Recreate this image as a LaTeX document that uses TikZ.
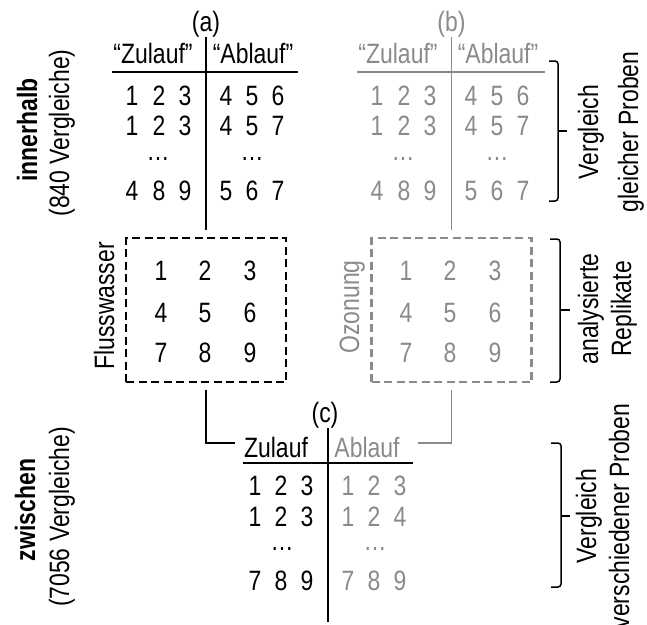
\documentclass[tikz,border=0pt]{standalone}
\usepackage{fontspec}
\setmainfont{Liberation Sans}[FakeStretch=0.82]
\definecolor{lightink}{RGB}{138,138,138}
\begin{document}
\begin{tikzpicture}[x=1pt,y=-1pt,
  every node/.style={inner sep=0pt,outer sep=0pt},
  lbl/.style={font=\fontsize{28}{34}\selectfont,anchor=base},
  dotrow/.style={lbl,text height=4pt,text depth=0pt},
  vlabel/.style={lbl,rotate=90},
  dim/.style={text=lightink},
  rule/.style={line width=1.5pt},
  replbox/.style={draw,line width=2.8pt,dash pattern=on 8pt off 4.5pt,
    minimum width=160pt,minimum height=144pt},
  brace/.style={line width=1.5pt,rounded corners=3pt}]
\useasboundingbox (0,0) rectangle (647,624);

% ---------- (a) comparisons within river water ----------
\node[lbl] (labA) at (206,31) {(a)};
\node[lbl] (hA1) at (153,63) {“Zulauf”};
\node[lbl] (hA2) at (253,63) {“Ablauf”};
\draw[rule] (112,72) coordinate (ruleAl) -- (298,72) coordinate (ruleAr);
\foreach \x/\d [count=\i] in {132/1,159/2,185/3,226/4,252/5,278/6}
  \node[lbl] (a1\i) at (\x,105) {\d};
\foreach \x/\d [count=\i] in {132/1,159/2,185/3,226/4,252/5,278/7}
  \node[lbl] (a2\i) at (\x,135) {\d};
\node[dotrow] (a3l) at (158,160) {…};
\node[dotrow] (a3r) at (252,160) {…};
\foreach \x/\d [count=\i] in {132/4,159/8,185/9,226/5,252/6,278/7}
  \node[lbl] (a4\i) at (\x,200) {\d};

% ---------- (b) comparisons within ozonation ----------
\begin{scope}[lightink]
\node[lbl,dim] (labB) at (451.5,31) {(b)};
\node[lbl,dim] (hB1) at (398,63) {“Zulauf”};
\node[lbl,dim] (hB2) at (498,63) {“Ablauf”};
\draw[rule] (357,72) coordinate (ruleBl) -- (545,72) coordinate (ruleBr);
\foreach \x/\d [count=\i] in {377/1,404/2,430/3,471/4,497/5,523/6}
  \node[lbl,dim] (b1\i) at (\x,105) {\d};
\foreach \x/\d [count=\i] in {377/1,404/2,430/3,471/4,497/5,523/7}
  \node[lbl,dim] (b2\i) at (\x,135) {\d};
\node[dotrow,dim] (b3l) at (403,160) {…};
\node[dotrow,dim] (b3r) at (497,160) {…};
\foreach \x/\d [count=\i] in {377/4,404/8,430/9,471/5,497/6,523/7}
  \node[lbl,dim] (b4\i) at (\x,200) {\d};
\end{scope}

% ---------- replicate boxes ----------
\node[replbox] (boxA) at (206,310) {};
\node[replbox,draw=lightink] (boxB) at (451.5,310) {};
\foreach \y [count=\r] in {280,322,362}
  \foreach \x [count=\c] in {161,205,250} {
    \pgfmathtruncatemacro\num{(\r-1)*3+\c}
    \node[lbl] (ra\r\c) at (\x,\y) {\num};
    \node[lbl,dim] (rb\r\c) at (\x+245,\y) {\num};
  }
\node[vlabel] (fluss) at (114,306) {Flusswasser};
\node[vlabel,dim] (ozon) at (359,307) {Ozonung};

\draw[rule] (labA.south) -- ([yshift=8pt]boxA.north);
\draw[rule,lightink] (labB.south) -- ([yshift=8pt]boxB.north);

% ---------- (c) comparisons between samples ----------
\node[lbl] (labC) at (325,422) {(c)};
\node[lbl] (hC1) at (276,457) {Zulauf};
\node[lbl,dim] (hC2) at (367,457) {Ablauf};
\coordinate (cEnd) at (328,622);
\draw[rule] (labC.south -| cEnd) -- (cEnd);
\draw[rule] (243,463) coordinate (ruleCl) -- (413,463) coordinate (ruleCr);
\foreach \x/\d [count=\i] in {255/1,281/2,307/3}
  \node[lbl] (c1\i) at (\x,495) {\d};
\foreach \x/\d [count=\i] in {348/1,374/2,400/3}
  \node[lbl,dim] (c1r\i) at (\x,495) {\d};
\foreach \x/\d [count=\i] in {255/1,281/2,307/3}
  \node[lbl] (c2\i) at (\x,526) {\d};
\foreach \x/\d [count=\i] in {348/1,374/2,400/4}
  \node[lbl,dim] (c2r\i) at (\x,526) {\d};
\node[dotrow] (c3l) at (282,550) {…};
\node[dotrow,dim] (c3r) at (375,550) {…};
\foreach \x/\d [count=\i] in {255/7,281/8,307/9}
  \node[lbl] (c4\i) at (\x,590) {\d};
\foreach \x/\d [count=\i] in {348/7,374/8,400/9}
  \node[lbl,dim] (c4r\i) at (\x,590) {\d};

\coordinate (joinL) at (235,443);
\coordinate (joinR) at (418,443);
\draw[rule] ([yshift=-8pt]boxA.south) |- (joinL);
\draw[rule,lightink] ([yshift=-8pt]boxB.south) |- (joinR);

% ---------- left-hand row labels ----------
\node[vlabel,font=\fontsize{28}{34}\selectfont\bfseries] (inner) at (37,130) {innerhalb};
\node[vlabel] (innerN) at (69,133) {(840 Vergleiche)};
\node[vlabel,font=\fontsize{28}{34}\selectfont\bfseries] (betw) at (35,510) {zwischen};
\node[vlabel] (betwN) at (69,517) {(7056 Vergleiche)};

% ---------- right-hand braces and captions ----------
\draw[brace] (549,61) -- (558,61) -- (558,201) -- (549,201);
\draw[line width=1.5pt] (558,131) -- (567,131);
\node[vlabel] (rt1) at (598,132) {Vergleich};
\node[vlabel] (rt2) at (638,132) {gleicher Proben};

\draw[brace] (550,239) -- (560,239) -- (560,382) -- (550,382);
\draw[line width=1.5pt] (560,310) -- (570,310);
\node[vlabel] (rm1) at (598,309) {analysierte};
\node[vlabel] (rm2) at (631,309) {Replikate};

\draw[brace] (551,443) -- (561,443) -- (561,587) -- (551,587);
\draw[line width=1.5pt] (561,516) -- (570,516);
\node[vlabel] (rb1) at (596,516) {Vergleich};
\node[vlabel] (rb2) at (629,516) {verschiedener Proben};
\end{tikzpicture}
\end{document}
